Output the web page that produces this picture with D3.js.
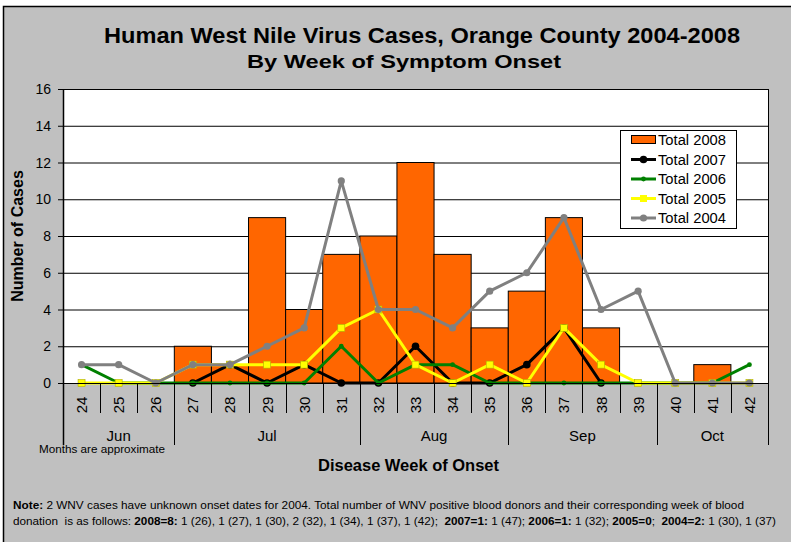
<!DOCTYPE html>
<html>
<head>
<meta charset="utf-8">
<script src="https://cdn.jsdelivr.net/npm/d3@7"></script>
<style>
  body { margin: 0; background: #fff; }
  svg { display: block; font-family: Arial, "Liberation Sans", sans-serif; }
  text { white-space: pre; }
</style>
</head>
<body>
<svg id="chart" width="791" height="542"></svg>
<script>
// weeks of onset and yearly totals
const weeks = [24, 25, 26, 27, 28, 29, 30, 31, 32, 33, 34, 35, 36, 37, 38, 39, 40, 41, 42];
const total2008 = [0, 0, 0, 2, 1, 9, 4, 7, 8, 12, 7, 3, 5, 9, 3, 0, 0, 1, 0];
const total2007 = [null, null, null, 0, 1, 0, 1, 0, 0, 2, 0, 0, 1, 3, 0, null, null, null, null];
const total2006 = [1, 0, 0, 0, 0, 0, 0, 2, 0, 1, 1, 0, 0, 0, 0, 0, 0, 0, 1];
const total2005 = [0, 0, 0, 1, 1, 1, 1, 3, 4, 1, 0, 1, 0, 3, 1, 0, 0, 0, 0];
const total2004 = [1, 1, 0, 1, 1, 2, 3, 11, 4, 4, 3, 5, 6, 9, 4, 5, 0, 0, 0];

const months = ["Jun", "Jul", "Aug", "Sep", "Oct"];
const monthStart = [24, 27, 32, 36, 40];
const monthEnd = [26, 31, 35, 39, 42];
const yTicks = [0, 2, 4, 6, 8, 10, 12, 14, 16];

const svg = d3.select("svg#chart");

// outer grey frame
svg.append("rect")
  .attr("x", 3.5).attr("y", 6.5)
  .attr("width", 900).attr("height", 700)
  .attr("fill", "#c0c0c0")
  .attr("stroke", "#000").attr("stroke-width", 1.5);

const plotLeft = 63, plotRight = 768, plotTop = 89, plotBottom = 383;

const x = d3.scaleBand().domain(weeks).range([plotLeft, plotRight]).padding(0);
const y = d3.scaleLinear().domain([0, 16]).range([plotBottom, plotTop]);

// plot area
svg.append("rect")
  .attr("x", plotLeft).attr("y", plotTop)
  .attr("width", plotRight - plotLeft).attr("height", plotBottom - plotTop)
  .attr("fill", "#fff");

// gridlines
svg.append("g")
  .selectAll("line")
  .data(yTicks.filter(d => d > 0))
  .enter()
  .append("line")
  .attr("x1", plotLeft).attr("x2", plotRight)
  .attr("y1", d => y(d) + 0.5).attr("y2", d => y(d) + 0.5)
  .attr("stroke", "#000").attr("stroke-width", 1);

// bars for 2008
svg.append("g")
  .selectAll("rect")
  .data(weeks.map((w, i) => ({ w: w, v: total2008[i] })).filter(d => d.v > 0))
  .enter()
  .append("rect")
  .attr("x", d => x(d.w))
  .attr("y", d => y(d.v))
  .attr("width", x.bandwidth())
  .attr("height", d => y(0) - y(d.v))
  .attr("fill", "#ff6600")
  .attr("stroke", "#000").attr("stroke-width", 1);

// plot border (right side)
svg.append("line")
  .attr("x1", plotRight + 0.5).attr("x2", plotRight + 0.5)
  .attr("y1", plotTop).attr("y2", plotBottom)
  .attr("stroke", "#000");

const series = [
  { name: "Total 2007", values: total2007, color: "#000000", marker: "circle", r: 3.8 },
  { name: "Total 2006", values: total2006, color: "#008000", marker: "circle", r: 2.4 },
  { name: "Total 2005", values: total2005, color: "#ffff00", marker: "square", r: 3.5 },
  { name: "Total 2004", values: total2004, color: "#808080", marker: "circle", r: 3.6 }
];

const cx = w => x(w) + x.bandwidth() / 2;

series.forEach(function (s) {
  const pts = weeks.map((w, i) => ({ w: w, v: s.values[i] })).filter(d => d.v !== null);
  const line = d3.line().x(d => cx(d.w)).y(d => y(d.v));
  const g = svg.append("g");
  g.append("path")
    .attr("d", line(pts))
    .attr("fill", "none")
    .attr("stroke", s.color)
    .attr("stroke-width", 3)
    .attr("stroke-linejoin", "round");
  if (s.marker == "square") {
    g.selectAll("rect")
      .data(pts)
      .enter()
      .append("rect")
      .attr("x", d => cx(d.w) - s.r)
      .attr("y", d => y(d.v) - s.r)
      .attr("width", s.r * 2).attr("height", s.r * 2)
      .attr("fill", s.color)
      .attr("stroke", "#b0b000").attr("stroke-width", 0.6);
  } else {
    g.selectAll("circle")
      .data(pts)
      .enter()
      .append("circle")
      .attr("cx", d => cx(d.w))
      .attr("cy", d => y(d.v))
      .attr("r", s.r)
      .attr("fill", s.color);
  }
});

// x axis line
svg.append("line")
  .attr("x1", plotLeft).attr("x2", plotRight + 1)
  .attr("y1", plotBottom + 0.5).attr("y2", plotBottom + 0.5)
  .attr("stroke", "#000").attr("stroke-width", 1);

// y axis
svg.append("line")
  .attr("x1", plotLeft + 0.5).attr("x2", plotLeft + 0.5)
  .attr("y1", plotTop).attr("y2", 445)
  .attr("stroke", "#000").attr("stroke-width", 1.5);

const yAxis = svg.append("g");
yAxis.selectAll("line")
  .data(yTicks)
  .enter()
  .append("line")
  .attr("x1", plotLeft - 5).attr("x2", plotLeft)
  .attr("y1", d => y(d) + 0.5).attr("y2", d => y(d) + 0.5)
  .attr("stroke", "#000");
yAxis.selectAll("text")
  .data(yTicks)
  .enter()
  .append("text")
  .attr("x", 51)
  .attr("y", d => y(d) + 5)
  .attr("text-anchor", "end")
  .attr("font-size", 14)
  .text(d => d);

// week ticks between categories
svg.append("g")
  .selectAll("line")
  .data(weeks.slice(1))
  .enter()
  .append("line")
  .attr("x1", d => Math.round(x(d)) + 0.5).attr("x2", d => Math.round(x(d)) + 0.5)
  .attr("y1", plotBottom).attr("y2", 413)
  .attr("stroke", "#000");

// week labels
svg.append("g")
  .selectAll("text")
  .data(weeks)
  .enter()
  .append("text")
  .attr("transform", d => "translate(" + (cx(d) + 5.5) + ",405) rotate(-90)")
  .attr("text-anchor", "middle")
  .attr("font-size", 15)
  .text(d => d);

// month separators and labels
const sepWeeks = monthEnd.slice(0, -1);
svg.append("g")
  .selectAll("line")
  .data(sepWeeks)
  .enter()
  .append("line")
  .attr("x1", d => Math.round(x(d) + x.bandwidth()) + 0.5)
  .attr("x2", d => Math.round(x(d) + x.bandwidth()) + 0.5)
  .attr("y1", plotBottom).attr("y2", 445)
  .attr("stroke", "#000");
svg.append("line")
  .attr("x1", plotRight + 0.5).attr("x2", plotRight + 0.5)
  .attr("y1", plotBottom).attr("y2", 445)
  .attr("stroke", "#000");

svg.append("g")
  .selectAll("text")
  .data(months)
  .enter()
  .append("text")
  .attr("x", (d, i) => (x(monthStart[i]) + x(monthEnd[i]) + x.bandwidth()) / 2)
  .attr("y", 441)
  .attr("text-anchor", "middle")
  .attr("font-size", 15)
  .text(d => d);

svg.append("text")
  .attr("x", 39).attr("y", 453)
  .attr("font-size", 11)
  .attr("textLength", 126).attr("lengthAdjust", "spacingAndGlyphs")
  .text("Months are approximate");

// titles
svg.append("text")
  .attr("x", 104).attr("y", 43)
  .attr("font-size", 22).attr("font-weight", "bold")
  .attr("textLength", 636).attr("lengthAdjust", "spacingAndGlyphs")
  .text("Human West Nile Virus Cases, Orange County 2004-2008");
svg.append("text")
  .attr("x", 247).attr("y", 68)
  .attr("font-size", 18).attr("font-weight", "bold")
  .attr("textLength", 314).attr("lengthAdjust", "spacingAndGlyphs")
  .text("By Week of Symptom Onset");

svg.append("text")
  .attr("x", 318).attr("y", 471)
  .attr("font-size", 16).attr("font-weight", "bold")
  .attr("textLength", 181).attr("lengthAdjust", "spacingAndGlyphs")
  .text("Disease Week of Onset");

svg.append("text")
  .attr("transform", "translate(23,236) rotate(-90)")
  .attr("text-anchor", "middle")
  .attr("font-size", 16).attr("font-weight", "bold")
  .text("Number of Cases");

// legend
const legend = svg.append("g");
legend.append("rect")
  .attr("x", 620.5).attr("y", 130.5)
  .attr("width", 116).attr("height", 98)
  .attr("fill", "#fff").attr("stroke", "#000");
const legendRows = [{ name: "Total 2008", bar: true }].concat(series);
legendRows.forEach(function (s, i) {
  const ly = 140 + i * 19.5;
  if (s.bar) {
    legend.append("rect")
      .attr("x", 631.5).attr("y", ly - 4.5)
      .attr("width", 24).attr("height", 8)
      .attr("fill", "#ff6600").attr("stroke", "#000");
  } else {
    legend.append("line")
      .attr("x1", 631).attr("x2", 656)
      .attr("y1", ly).attr("y2", ly)
      .attr("stroke", s.color).attr("stroke-width", 3);
    if (s.marker == "square") {
      legend.append("rect")
        .attr("x", 643.5 - s.r).attr("y", ly - s.r)
        .attr("width", s.r * 2).attr("height", s.r * 2)
        .attr("fill", s.color);
    } else {
      legend.append("circle")
        .attr("cx", 643.5).attr("cy", ly)
        .attr("r", s.r).attr("fill", s.color);
    }
  }
  legend.append("text")
    .attr("x", 658).attr("y", ly + 5)
    .attr("font-size", 14)
    .attr("textLength", 68).attr("lengthAdjust", "spacingAndGlyphs")
    .text(s.name);
});

// note at bottom
const note1 = svg.append("text")
  .attr("x", 13).attr("y", 509)
  .attr("font-size", 11)
  .attr("textLength", 731).attr("lengthAdjust", "spacingAndGlyphs");
note1.append("tspan").attr("font-weight", "bold").text("Note:");
note1.append("tspan").text(" 2 WNV cases have unknown onset dates for 2004. Total number of WNV positive blood donors and their corresponding week of blood");

const noteParts = [
  ["donation  is as follows: ", false],
  ["2008=8:", true],
  [" 1 (26), 1 (27), 1 (30), 2 (32), 1 (34), 1 (37), 1 (42);  ", false],
  ["2007=1:", true],
  [" 1 (47); ", false],
  ["2006=1:", true],
  [" 1 (32); ", false],
  ["2005=0", true],
  [";  ", false],
  ["2004=2:", true],
  [" 1 (30), 1 (37)", false]
];
const note2 = svg.append("text")
  .attr("x", 13).attr("y", 525)
  .attr("font-size", 11)
  .attr("textLength", 763).attr("lengthAdjust", "spacingAndGlyphs");
noteParts.forEach(function (p) {
  note2.append("tspan")
    .attr("font-weight", p[1] ? "bold" : null)
    .text(p[0]);
});
</script>
</body>
</html>
